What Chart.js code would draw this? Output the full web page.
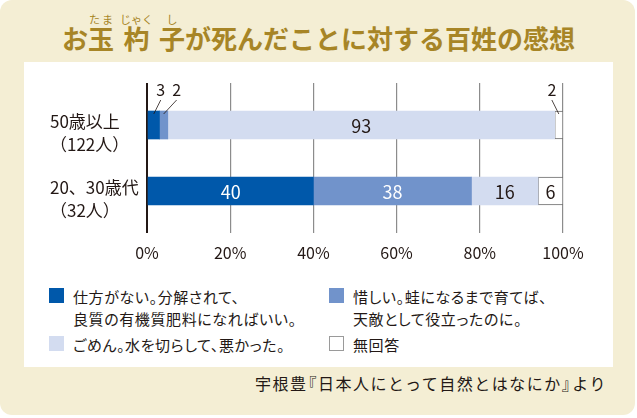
<!DOCTYPE html>
<html lang="ja">
<head>
<meta charset="utf-8">
<script src="https://cdn.jsdelivr.net/npm/chart.js@4.4.1/dist/chart.umd.min.js"></script>
<style>
  body { margin: 0; background: #fff; font-family: "Noto Sans CJK JP", "Noto Sans", sans-serif; color: #231815; }
  #frame { position: absolute; left: 0; top: 0; width: 635px; height: 415px; background: #f4eed4; border-radius: 12px; }
  #title { position: absolute; left: 0; top: 14px; width: 637px; text-align: center; font-size: 26px; font-weight: 700; color: #a78526; line-height: 36px; }
  #title rt { font-size: 11px; font-weight: 400; }
  #title .mid { margin: 0 6px; }
  #panel { position: absolute; left: 24px; top: 62px; width: 589px; height: 305px; background: #fff; }
  #chart { position: absolute; left: 0; top: 0; }
  .item { position: absolute; font-size: 15px; line-height: 22px; white-space: pre-line; font-feature-settings: "palt"; letter-spacing: 0.6px; }
  .item .box { position: absolute; left: -24px; top: 2px; width: 15px; height: 15px; box-sizing: border-box; }
  #source { position: absolute; right: 30px; top: 372px; font-size: 16px; line-height: 22px; letter-spacing: 1.5px; }
  #source .ob { margin-left: -7px; }
  #source .cb { margin-right: -7px; }
</style>
</head>
<body>
<div id="frame"></div>
<div id="title">お<ruby>玉<rt>たま</rt></ruby><ruby class="mid">杓<rt>じゃく</rt></ruby><ruby>子<rt>し</rt></ruby>が死んだことに対する百姓の感想</div>
<div id="panel">
  <canvas id="chart" width="589" height="205"></canvas>
  <div id="legend"></div>
</div>
<div id="source">宇根豊<span class="ob">『</span>日本人にとって自然とはなにか<span class="cb">』</span>より</div>

<script>
// Data
const categories = [['50歳以上', '（122人）'], ['20、30歳代', '（32人）']];
const seriesNames = [
    '仕方がない。分解されて、\n良質の有機質肥料になればいい。',
    '惜しい。蛙になるまで育てば、\n天敵として役立ったのに。',
    'ごめん。水を切らして、悪かった。',
    '無回答'
];
const valuesGiveUp = [3, 40];
const valuesRegret = [2, 38];
const valuesSorry = [93, 16];
const valuesNoAnswer = [2, 6];
const tickLabels = ['0%', '20%', '40%', '60%', '80%', '100%'];

// Styles
const seriesColors = ['#0058aa', '#7193cb', '#d3dcf0', '#ffffff'];
const labelColors = ['#ffffff', '#ffffff', '#231815', '#231815'];
const dark = '#231815';

// Small segments get their label above the bar (x shift from segment centre)
const callouts = { '0-0': 7, '1-0': 13, '3-0': -7 };

const allValues = [valuesGiveUp, valuesRegret, valuesSorry, valuesNoAnswer];

// Legend (HTML)
const legendPos = [[73, 224], [353, 224], [73, 272], [353, 272]];
const legend = document.getElementById('legend');
seriesNames.forEach((name, i) => {
    const item = document.createElement('div');
    item.className = 'item';
    item.style.left = (legendPos[i][0] - 24) + 'px';
    item.style.top = legendPos[i][1] + 'px';
    item.textContent = name;
    const box = document.createElement('span');
    box.className = 'box';
    box.style.background = seriesColors[i];
    if (i === 3) box.style.border = '1.5px solid #9a9a9a';
    item.appendChild(box);
    legend.appendChild(item);
});

// Value labels drawn on the bars
const valueLabels = {
    id: 'valueLabels',
    afterDatasetsDraw(chart) {
        const ctx = chart.ctx;
        ctx.save();
        ctx.textAlign = 'center';
        ctx.textBaseline = 'middle';
        chart.data.datasets.forEach((ds, di) => {
            const meta = chart.getDatasetMeta(di);
            meta.data.forEach((bar, i) => {
                const p = bar.getProps(['x', 'base', 'y', 'height'], true);
                const cx = (p.x + p.base) / 2;
                const key = di + '-' + i;
                if (key in callouts) {
                    const top = p.y - p.height / 2;
                    const lx = cx + callouts[key];
                    ctx.fillStyle = dark;
                    ctx.font = '16px "Noto Sans CJK JP"';
                    ctx.fillText(ds.data[i], lx, top - 21);
                    ctx.strokeStyle = dark;
                    ctx.lineWidth = 0.8;
                    ctx.beginPath();
                    ctx.moveTo(cx, top + 3);
                    ctx.lineTo(lx, top - 11);
                    ctx.stroke();
                } else {
                    ctx.fillStyle = labelColors[di];
                    ctx.font = '18px "Noto Sans CJK JP"';
                    ctx.fillText(ds.data[i], cx, p.y + 1);
                }
            });
        });
        ctx.restore();
    }
};

const gridColor = (c) => c.tick && c.tick.value === 0 ? dark : '#8c8c8c';
const gridWidth = (c) => c.tick && c.tick.value === 0 ? 2 : 1.2;

new Chart(document.getElementById('chart'), {
    type: 'bar',
    data: {
        labels: categories,
        datasets: allValues.map((vals, i) => ({
            label: seriesNames[i],
            data: vals,
            backgroundColor: seriesColors[i],
            borderColor: '#6a6a6a',
            borderWidth: i === 3 ? 1 : 0,
            borderSkipped: false,
            barThickness: 28
        }))
    },
    options: {
        indexAxis: 'y',
        responsive: false,
        animation: false,
        layout: { padding: { left: 26, right: 50, top: 21, bottom: 5 } },
        plugins: { legend: { display: false }, tooltip: { enabled: false } },
        scales: {
            x: {
                stacked: true,
                min: 0,
                max: 100,
                afterFit: (scale) => { scale.height = 38; },
                ticks: {
                    stepSize: 20,
                    padding: 10,
                    color: dark,
                    font: { family: 'Noto Sans CJK JP', size: 16 },
                    callback: (v) => tickLabels[v / 20]
                },
                grid: { color: gridColor, lineWidth: gridWidth, tickLength: 9 },
                border: { display: false }
            },
            x2: {
                display: true,
                position: 'top',
                min: 0,
                max: 100,
                ticks: { stepSize: 20, display: false },
                grid: { color: gridColor, lineWidth: gridWidth, tickLength: 9, drawOnChartArea: false },
                border: { display: false }
            },
            y: {
                stacked: true,
                afterFit: (scale) => {
                    scale.width = 97;
                    scale.paddingTop = 0;
                    scale.paddingBottom = 0;
                },
                ticks: {
                    crossAlign: 'far',
                    labelOffset: 8,
                    color: dark,
                    font: { family: 'Noto Sans CJK JP', size: 17, lineHeight: 1.35 }
                },
                grid: { display: false },
                border: { display: false }
            }
        }
    },
    plugins: [valueLabels]
});
</script>
</body>
</html>
